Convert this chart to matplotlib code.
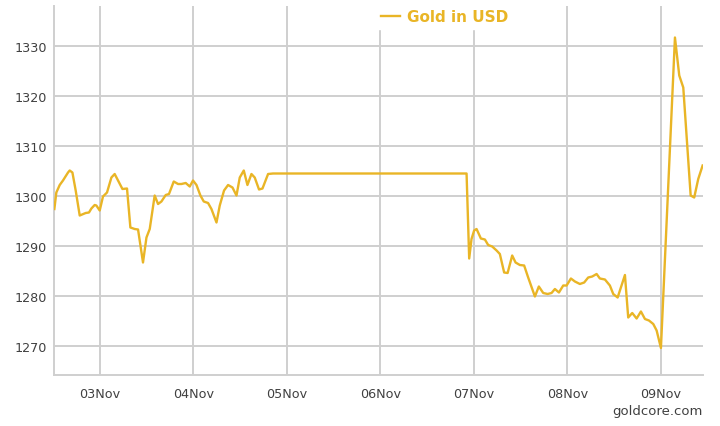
import matplotlib
matplotlib.use("Agg")
import matplotlib.pyplot as plt

# Time expressed as day-of-November (fractional), price in USD
days = [2.512, 2.533, 2.569, 2.604, 2.658, 2.676, 2.705, 2.740, 2.783, 2.847,
        2.882, 2.908, 2.943, 2.961, 2.997, 3.032, 3.075, 3.122, 3.157, 3.193,
        3.240, 3.289, 3.325, 3.371, 3.407, 3.460, 3.497, 3.532, 3.585, 3.621,
        3.657, 3.703, 3.738, 3.789, 3.835, 3.871, 3.917, 3.960, 3.995, 4.032,
        4.074, 4.110, 4.156, 4.192, 4.246, 4.281, 4.327, 4.370, 4.417, 4.460,
        4.495, 4.538, 4.577, 4.620, 4.655, 4.701, 4.738, 4.798, 4.851, 6.921,
        6.949, 6.974, 7.002, 7.028, 7.074, 7.117, 7.152, 7.195, 7.242, 7.277,
        7.323, 7.360, 7.409, 7.445, 7.491, 7.537, 7.580, 7.652, 7.694, 7.741,
        7.788, 7.830, 7.866, 7.909, 7.955, 7.991, 8.037, 8.080, 8.133, 8.179,
        8.222, 8.265, 8.312, 8.347, 8.401, 8.454, 8.490, 8.537, 8.615, 8.650,
        8.693, 8.740, 8.786, 8.829, 8.872, 8.918, 8.954, 9.000, 9.150, 9.196,
        9.239, 9.318, 9.356, 9.399, 9.446]
gold_usd = [1297.4, 1300.7, 1302.2, 1303.1, 1304.7, 1305.1, 1304.7, 1301.1, 1296.1, 1296.6,
            1296.7, 1297.5, 1298.2, 1298.1, 1297.1, 1299.9, 1300.7, 1303.7, 1304.4, 1303.1,
            1301.4, 1301.5, 1293.7, 1293.4, 1293.3, 1286.7, 1291.7, 1293.4, 1300.1, 1298.4,
            1298.9, 1300.2, 1300.4, 1302.9, 1302.4, 1302.4, 1302.6, 1301.9, 1303.1, 1302.2,
            1300.1, 1298.9, 1298.6, 1297.4, 1294.7, 1298.1, 1301.1, 1302.2, 1301.7, 1300.1,
            1303.7, 1305.1, 1302.2, 1304.4, 1303.7, 1301.3, 1301.5, 1304.4, 1304.5, 1304.5,
            1287.5, 1291.4, 1293.1, 1293.4, 1291.5, 1291.3, 1290.2, 1289.9, 1289.1, 1288.4,
            1284.7, 1284.6, 1288.1, 1286.7, 1286.2, 1286.1, 1283.7, 1279.9, 1281.9, 1280.6,
            1280.4, 1280.6, 1281.4, 1280.7, 1282.1, 1282.1, 1283.5, 1282.9, 1282.4, 1282.7,
            1283.7, 1283.9, 1284.4, 1283.5, 1283.3, 1282.1, 1280.4, 1279.7, 1284.2, 1275.7,
            1276.6, 1275.5, 1276.9, 1275.4, 1275.1, 1274.4, 1273.1, 1269.6, 1331.7, 1324.1,
            1321.7, 1300.1, 1299.7, 1303.4, 1306.1]

tick_days = [3, 4, 5, 6, 7, 8, 9]
tick_labels = ["03Nov", "04Nov", "05Nov", "06Nov", "07Nov", "08Nov", "09Nov"]
y_ticks = [1270, 1280, 1290, 1300, 1310, 1320, 1330]

GOLD = "#E9B526"
GRID = "#cfcfcf"
TEXT = "#404040"

fig = plt.figure(figsize=(7.2, 4.27), dpi=100)
ax = fig.add_axes([54/720, 1 - 376/427, (703-54)/720, (376-7)/427])

ax.plot(days, gold_usd, color=GOLD, lw=1.7, label="Gold in USD", zorder=3,
        solid_joinstyle="round")

ax.set_xlim(2.508, 9.45)
ax.set_ylim(1264.2, 1338)
ax.set_xticks(tick_days)
ax.set_xticklabels(tick_labels)
ax.set_yticks(y_ticks)
ax.tick_params(axis="both", length=0, labelsize=9.2, colors=TEXT)
ax.tick_params(axis="x", pad=9)
ax.tick_params(axis="y", pad=5)

ax.grid(True, color=GRID, lw=1.4)
ax.set_axisbelow(True)
for s in ["top", "right"]:
    ax.spines[s].set_visible(False)
for s in ["left", "bottom"]:
    ax.spines[s].set_color(GRID)
    ax.spines[s].set_linewidth(1.4)

leg = ax.legend(loc="center", bbox_to_anchor=((445-54)/649, (376-18)/369),
                frameon=True, facecolor="white", edgecolor="white", framealpha=1,
                handlelength=1.2, handletextpad=0.5, borderpad=0.3,
                prop={"weight": "bold", "size": 11}, labelcolor=GOLD,
                fancybox=False)

fig.text(703/720, 1 - 412/427, "goldcore.com", ha="right", va="center",
         fontsize=9.5, color=TEXT)

fig.savefig("out.png", dpi=100)
